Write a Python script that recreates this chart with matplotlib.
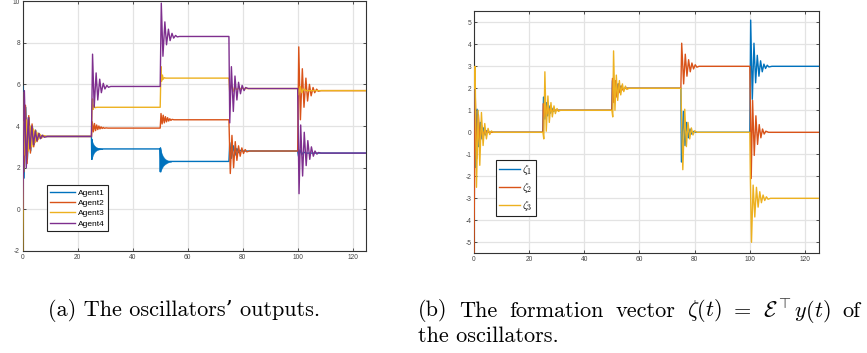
import matplotlib
matplotlib.use("Agg")
import matplotlib.pyplot as plt

# ---------------- data ----------------
agent_names = ["Agent1", "Agent2", "Agent3", "Agent4"]
zeta_names = [r"$\zeta_1$", r"$\zeta_2$", r"$\zeta_3$"]

a1_t = [0, 0.5, 1.1, 1.7, 2.3, 2.9, 3.5, 4.1, 4.7, 5.3, 5.9, 6.5, 7.1, 8, 25, 25.1, 25.15, 25.25, 29.5,
        50, 50.05, 50.1, 50.2, 55, 75, 75.3, 75.9, 76.6, 77.2, 77.9, 78.5, 79.2, 80,
        100, 100.3, 100.9, 101.5, 102.1, 103, 125]
a1_y = [5.9, 1.5, 4.9, 2.4, 4.4, 2.8, 4.0, 3.1, 3.8, 3.3, 3.65, 3.4, 3.55, 3.5, 3.5, 2.4, 3.35, 2.9, 2.9,
        2.9, 1.8, 2.95, 2.3, 2.3, 2.3, 3.2, 2.45, 3.05, 2.6, 2.92, 2.72, 2.83, 2.8,
        2.8, 2.55, 2.85, 2.62, 2.75, 2.7, 2.7]
# dense fast oscillation of Agent1 (upper / lower envelopes)
band1_t = [25.1, 25.5, 26.0, 26.5, 27.0, 27.5, 28.0, 29.0]
band1_hi = [3.35, 3.18, 3.07, 3.01, 2.97, 2.95, 2.93, 2.91]
band1_lo = [2.40, 2.60, 2.73, 2.80, 2.84, 2.87, 2.88, 2.89]
band2_t = [50.1, 50.5, 51.0, 51.5, 52.0, 52.5, 53.0, 54.0]
band2_hi = [2.93, 2.70, 2.55, 2.46, 2.40, 2.36, 2.33, 2.31]
band2_lo = [1.80, 1.95, 2.07, 2.14, 2.19, 2.23, 2.26, 2.29]

a2_t = [0, 0.4, 1.0, 1.6, 2.2, 2.8, 3.4, 4.0, 4.6, 5.2, 5.8, 6.4, 7.0, 8, 25,
        25.3, 25.7, 26.1, 26.5, 26.9, 27.3, 27.7, 28.1, 28.5, 28.9, 29.3, 29.7, 30.3, 31, 50,
        50.3, 50.7, 51.1, 51.5, 51.9, 52.3, 52.7, 53.1, 53.5, 53.9, 54.3, 55, 75,
        75.5, 76.1, 76.7, 77.3, 77.9, 78.5, 79.1, 79.7, 80.3, 80.9, 81.5, 82.5, 100,
        100.4, 101.0, 101.7, 102.3, 103.0, 103.6, 104.3, 104.9, 105.6, 106.2, 106.9, 107.5, 108.5, 125]
a2_y = [5.6, 1.8, 5.0, 2.2, 4.5, 2.7, 4.1, 3.0, 3.8, 3.25, 3.65, 3.4, 3.55, 3.5, 3.5,
        4.2, 3.72, 4.12, 3.78, 4.05, 3.83, 4.0, 3.86, 3.96, 3.88, 3.93, 3.89, 3.91, 3.9, 3.9,
        4.6, 4.1, 4.52, 4.15, 4.45, 4.2, 4.4, 4.24, 4.35, 4.27, 4.32, 4.3, 4.3,
        1.72, 3.55, 2.0, 3.25, 2.35, 3.05, 2.55, 2.95, 2.68, 2.87, 2.76, 2.8, 2.8,
        7.8, 4.3, 6.75, 4.9, 6.3, 5.2, 6.0, 5.45, 5.85, 5.6, 5.77, 5.67, 5.7, 5.7]

a3_t = [0, 0.3, 0.9, 1.5, 2.1, 2.7, 3.3, 3.9, 4.5, 5.1, 5.7, 6.3, 6.9, 7.5, 8.5, 25,
        25.2, 25.4, 25.6, 25.9, 26.3, 27, 50,
        50.3, 50.5, 50.8, 51.1, 51.5, 52, 75,
        75.3, 75.9, 76.5, 77.1, 77.7, 78.5, 100,
        100.3, 100.9, 101.5, 102.1, 103, 125]
a3_y = [-2.0, 4.2, 2.6, 4.3, 2.8, 4.0, 3.0, 3.85, 3.2, 3.7, 3.35, 3.6, 3.42, 3.55, 3.5, 3.5,
        4.75, 5.3, 4.8, 5.0, 4.88, 4.9, 4.9,
        6.85, 6.15, 6.45, 6.25, 6.32, 6.3, 6.3,
        5.6, 6.0, 5.65, 5.9, 5.75, 5.8, 5.8,
        5.5, 5.9, 5.6, 5.78, 5.7, 5.7]

a4_t = [0, 0.6, 1.3, 2.0, 2.6, 3.3, 3.9, 4.6, 5.2, 5.9, 6.5, 7.2, 7.8, 9, 25,
        25.4, 26.0, 26.7, 27.3, 28.0, 28.6, 29.3, 29.9, 30.6, 31.2, 32, 50,
        50.4, 51.0, 51.7, 52.3, 53.0, 53.6, 54.3, 54.9, 55.6, 56.2, 57, 75,
        75.3, 75.9, 76.6, 77.2, 77.9, 78.5, 79.2, 79.8, 80.5, 81.1, 82, 100,
        100.5, 101.1, 101.8, 102.4, 103.1, 103.7, 104.4, 105.0, 105.7, 106.3, 107, 107.6, 108.5, 125]
a4_y = [0.0, 5.7, 2.0, 4.4, 2.9, 4.0, 3.1, 3.75, 3.3, 3.62, 3.4, 3.55, 3.46, 3.5, 3.5,
        7.45, 4.9, 6.55, 5.25, 6.25, 5.6, 6.05, 5.78, 5.95, 5.86, 5.9, 5.9,
        9.9, 7.35, 9.0, 7.9, 8.65, 8.1, 8.45, 8.22, 8.35, 8.28, 8.3, 8.3,
        4.15, 6.85, 4.7, 6.4, 5.25, 6.1, 5.55, 5.95, 5.7, 5.85, 5.8, 5.8,
        0.75, 4.05, 1.6, 3.7, 2.1, 3.3, 2.4, 3.0, 2.55, 2.8, 2.65, 2.73, 2.7, 2.7]

z1_t = [0, 0.5, 1.1, 1.7, 2.3, 2.9, 3.5, 4.1, 4.7, 5.5, 25,
        25.2, 25.7, 26.2, 26.7, 27.2, 27.7, 28.2, 28.7, 29.5, 50,
        50.2, 50.7, 51.2, 51.7, 52.2, 52.7, 53.2, 53.8, 54.5, 75,
        75.2, 75.9, 76.5, 77.1, 77.7, 78.3, 78.9, 79.6, 80.5, 100,
        100.3, 100.9, 101.5, 102.1, 102.7, 103.3, 103.9, 104.5, 105.1, 105.7, 106.3, 106.9, 108, 125]
z1_y = [2.55, -1.6, 1.05, -0.65, 0.45, -0.3, 0.2, -0.12, 0.08, 0.0, 0.0,
        1.6, 0.6, 1.35, 0.75, 1.2, 0.87, 1.1, 0.95, 1.0, 1.0,
        2.35, 1.55, 2.3, 1.7, 2.2, 1.85, 2.1, 1.95, 2.0, 2.0,
        -1.35, 0.95, -0.6, 0.45, -0.25, 0.15, -0.08, 0.04, 0.0, 0.0,
        5.1, 1.5, 4.05, 2.25, 3.5, 2.55, 3.25, 2.75, 3.1, 2.9, 3.05, 2.97, 3.0, 3.0]

z2_t = [0, 0.4, 1.0, 1.6, 2.2, 2.8, 3.4, 4.0, 4.8, 25,
        25.1, 25.6, 26.1, 26.6, 27.1, 27.6, 28.3, 50,
        50.2, 50.7, 51.3, 51.8, 52.4, 52.9, 53.5, 54.0, 54.8, 75,
        75.3, 76.0, 76.6, 77.2, 77.8, 78.4, 79.0, 79.6, 80.2, 80.8, 81.6, 100,
        100.5, 101.0, 101.6, 102.2, 102.8, 103.4, 104.0, 104.6, 105.2, 105.8, 106.8, 125]
z2_y = [-5.5, 2.0, -1.2, 0.8, -0.5, 0.3, -0.18, 0.1, 0.0, 0.0,
        1.3, 0.7, 1.2, 0.85, 1.1, 0.95, 1.0, 1.0,
        2.45, 1.35, 2.35, 1.6, 2.2, 1.8, 2.1, 1.92, 2.0, 2.0,
        4.05, 2.2, 3.55, 2.55, 3.3, 2.75, 3.15, 2.88, 3.07, 2.96, 3.0, 3.0,
        -2.1, 1.45, -1.05, 0.75, -0.55, 0.35, -0.25, 0.15, -0.08, 0.05, 0.0, 0.0]

z3_t = [0, 0.4, 0.9, 1.5, 2.1, 2.7, 3.3, 3.9, 4.5, 5.1, 5.7, 6.3, 7.0, 25,
        25.3, 25.7, 26.2, 26.8, 27.3, 27.9, 28.4, 29.0, 29.5, 30.1, 30.6, 31.3, 50,
        50.3, 50.6, 51.1, 51.6, 52.1, 52.7, 53.2, 53.8, 54.3, 54.9, 55.4, 56.2, 75,
        75.7, 76.4, 77.0, 77.6, 78.2, 78.8, 79.4, 80.0, 80.8, 100,
        100.2, 100.6, 101.2, 101.8, 102.4, 103.0, 103.6, 104.2, 104.8, 105.4, 106.0, 106.6, 107.5, 125]
z3_y = [2.0, 3.0, -2.5, 1.0, -1.5, 0.9, -0.6, 0.4, -0.3, 0.18, -0.1, 0.06, 0.0, 0.0,
        -0.3, 2.75, 0.05, 1.65, 0.45, 1.35, 0.7, 1.2, 0.85, 1.08, 0.95, 1.0, 1.0,
        0.7, 3.7, 1.0, 2.6, 1.45, 2.35, 1.7, 2.2, 1.85, 2.1, 1.95, 2.0, 2.0,
        -1.7, 1.05, -0.65, 0.45, -0.3, 0.2, -0.12, 0.07, 0.0, 0.0,
        -2.1, -5.0, -2.4, -3.85, -2.5, -3.4, -2.7, -3.2, -2.85, -3.1, -2.93, -3.04, -3.0, -3.0]

left_xticks = [0, 20, 40, 60, 80, 100, 120]
left_yticks = [-2, 0, 2, 4, 6, 8, 10]
right_yticks = [-5, -4, -3, -2, -1, 0, 1, 2, 3, 4, 5]
caption_a = "(a) The oscillators\u2019 outputs."
caption_b1_words = ["(b)", "The", "formation", "vector", r"$\zeta(t)$", "=",
                    r"$\mathcal{E}^{\top}y(t)$", "of"]
caption_b2 = "the oscillators."

# ---------------- styling ----------------
colors = ["#0072BD", "#D95319", "#EDB120", "#7E2F8E"]
plt.rcParams["mathtext.fontset"] = "cm"
plt.rcParams["axes.unicode_minus"] = False
plt.rcParams["font.family"] = ["Liberation Sans", "DejaVu Sans"]

W, H = 867, 353
fig = plt.figure(figsize=(W / 100, H / 100), dpi=100)
axL = fig.add_axes([0.0262, 0.289, 0.3964, 0.708])
axR = fig.add_axes([0.5467, 0.2824, 0.3977, 0.6856])


def style(ax):
    ax.grid(True, color="#e3e3e3", linewidth=0.9)
    ax.set_axisbelow(True)
    for s in ax.spines.values():
        s.set_color("#333333")
        s.set_linewidth(0.8)
    ax.tick_params(direction="in", length=2.5, width=0.6, labelsize=4.8,
                   colors="#333333", labelcolor="#444444", top=True, right=True, pad=2)


lw = 1.0
series_L = [(a1_t, a1_y), (a2_t, a2_y), (a3_t, a3_y), (a4_t, a4_y)]
for i, (t, y) in enumerate(series_L):
    axL.plot(t, y, color=colors[i], lw=lw, label=agent_names[i], zorder=3 + i)
    if i == 0:
        axL.fill_between(band1_t, band1_lo, band1_hi, color=colors[0], lw=0.3, zorder=3)
        axL.fill_between(band2_t, band2_lo, band2_hi, color=colors[0], lw=0.3, zorder=3)
axL.set_xlim(0, 125)
axL.set_ylim(-2, 10)
axL.set_xticks(left_xticks)
axL.set_yticks(left_yticks)
style(axL)
legL = axL.legend(loc="lower left", bbox_to_anchor=(0.07, 0.08), fontsize=6.0,
                  frameon=True, fancybox=False, edgecolor="#222222", framealpha=1,
                  handlelength=3.0, handletextpad=0.3, borderpad=0.4, labelspacing=0.3,
                  borderaxespad=0)
legL.get_frame().set_linewidth(0.8)

series_R = [(z1_t, z1_y), (z2_t, z2_y), (z3_t, z3_y)]
for i, (t, y) in enumerate(series_R):
    axR.plot(t, y, color=colors[i], lw=lw, label=zeta_names[i], zorder=3 + i)
axR.set_xlim(0, 125)
axR.set_ylim(-5.5, 5.5)
axR.set_xticks(left_xticks)
axR.set_yticks(right_yticks)
style(axR)
legR = axR.legend(loc="lower left", bbox_to_anchor=(0.063, 0.154), fontsize=8.0,
                  frameon=True, fancybox=False, edgecolor="#222222", framealpha=1,
                  handlelength=1.9, handletextpad=0.2, borderpad=0.3, labelspacing=0.35,
                  borderaxespad=0)
legR.get_frame().set_linewidth(0.8)

# ---------------- captions ----------------
cap_fs = 16
cap_family = ["cmr10", "DejaVu Serif"]
y1 = 1 - 311 / H
y2 = 1 - 336 / H
fig.text(48 / W, y1, caption_a, fontsize=cap_fs, family=cap_family, va="center", ha="left")
fig.text(418 / W, y2, caption_b2, fontsize=cap_fs, family=cap_family, va="center", ha="left")

# justified first line of caption (b)
renderer = fig.canvas.get_renderer()
x_left, x_right = 418, 860
words = [fig.text(0, y1, w, fontsize=cap_fs, family=cap_family, va="center", ha="left")
         for w in caption_b1_words]
widths = [t.get_window_extent(renderer).width for t in words]
gap = (x_right - x_left - sum(widths)) / (len(words) - 1)
x = x_left
for t, wdt in zip(words, widths):
    t.set_x(x / W)
    x += wdt + gap

fig.savefig("out.png", dpi=100)
